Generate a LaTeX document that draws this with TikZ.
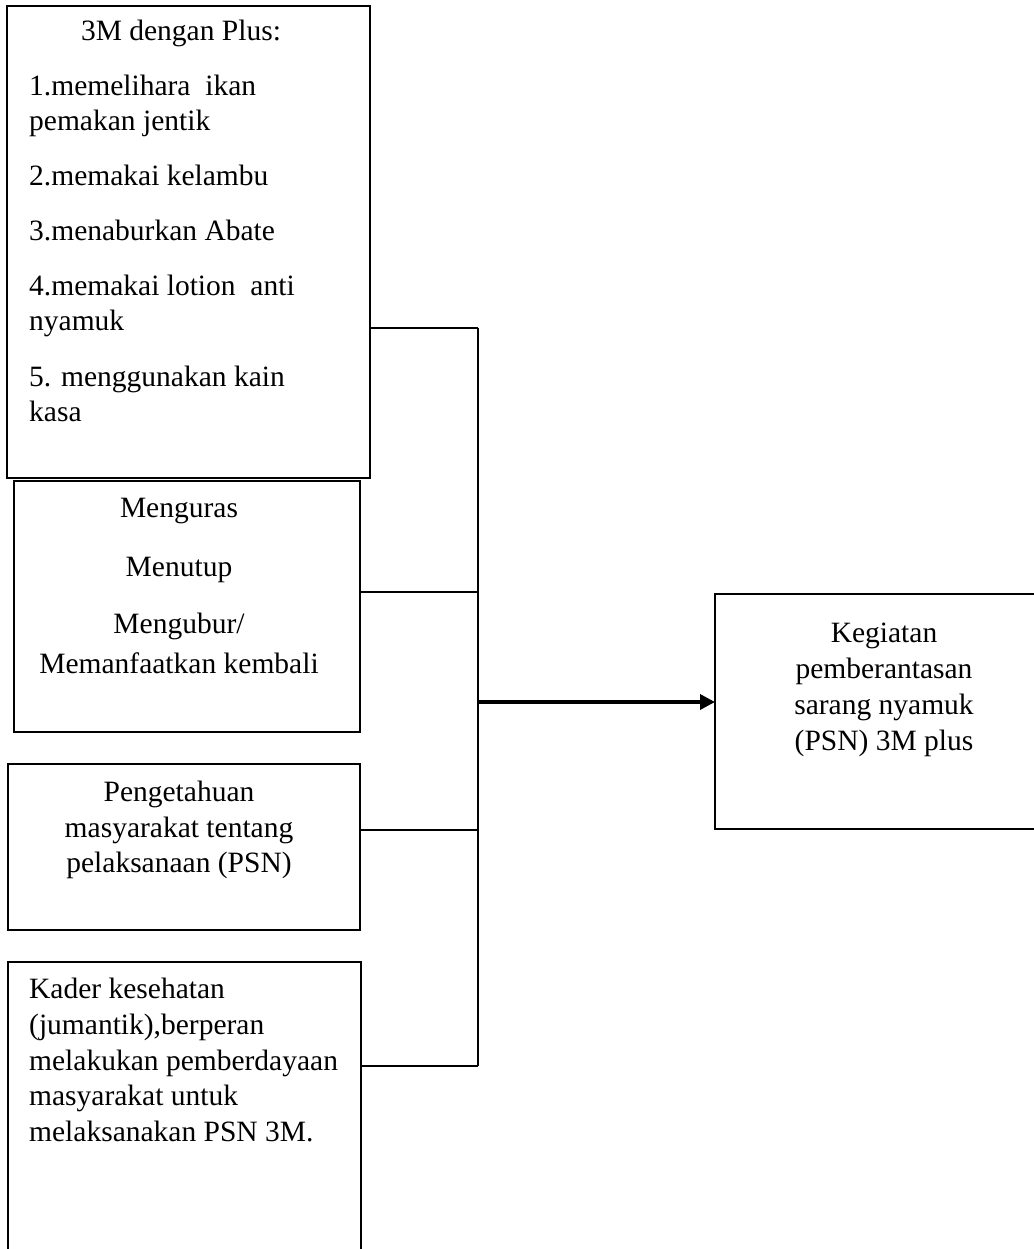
\documentclass[tikz,border=0pt]{standalone}
\usepackage{fontspec}
\setmainfont{Liberation Serif}
\usetikzlibrary{arrows.meta}
\newcommand{\fs}{\fontsize{29.5}{35}\selectfont}

\begin{document}
\begin{tikzpicture}[x=1pt, y=-1pt,
		kotak/.style={draw, line width=1.6pt, inner sep=0pt, outer sep=0pt, anchor=north west},
		teks/.style={inner sep=0pt, font=\fs},
		garis/.style={line width=1.6pt}]
		    \useasboundingbox (0,0) rectangle (1033,1249);
		    % kotak-kotak
		    \node[kotak, minimum width=363pt, minimum height=472pt] (b1) at (7,6) {};
		    \node[kotak, minimum width=346pt, minimum height=251pt] (b2) at (14,481) {};
		    \node[kotak, minimum width=352pt, minimum height=166pt] (b3) at (8,764) {};
		    \node[kotak, minimum width=353pt, minimum height=340pt] (b4) at (8,962) {};
		    \node[kotak, minimum width=340pt, minimum height=235pt] (b5) at (715,594) {};

		    % teks
		    \node[teks, anchor=base] (t1) at (181,41) {3M dengan Plus:};
		    \node[teks, anchor=north west, align=left] (t1b) at (29,70.5)
		      {\strut 1.memelihara~ ikan\\pemakan jentik\\[20pt]2.memakai kelambu\\[20pt]3.menaburkan Abate\\[20pt]4.memakai lotion~ anti\\nyamuk\\[21pt]5. menggunakan kain\\kasa};
		    \node[teks, anchor=north, align=center] (t2) at (179,492.5)
		      {\strut Menguras\\[24pt]Menutup\\[22pt]Mengubur/\\[5pt]Memanfaatkan kembali};
		    \node[teks, anchor=north, align=center] (t3) at (179,776.5)
		      {\strut Pengetahuan\\[1pt]masyarakat tentang\\pelaksanaan (PSN)};
		    \node[teks, anchor=north west, align=left] (t4) at (29,973.5)
		      {\strut Kader kesehatan\\[1pt](jumantik),berperan\\[1pt]melakukan pemberdayaan\\masyarakat untuk\\[1pt]melaksanakan PSN 3M.};
		    \node[teks, anchor=north, align=center] (t5) at (884,617.5)
		      {\strut Kegiatan\\[1pt]pemberantasan\\[1pt]sarang nyamuk\\[1pt](PSN) 3M plus};

		    % garis penghubung
		    \coordinate (j1) at (478,328);
		    \coordinate (j2) at (478,592);
		    \coordinate (j3) at (478,830);
		    \coordinate (j4) at (478,1066);
		    \coordinate (jm) at (478,702);
		    \foreach \i in {1,...,4} {
		       \draw[garis] (b\i.east |- j\i) -- (j\i);
		       }
		    \draw[garis] (j1) -- (j4);
		    \draw[line width=3.5pt, -{Triangle[length=15pt,width=15pt]}] (jm) -- (b5.west |- jm);
		\end{tikzpicture}
\end{document}
